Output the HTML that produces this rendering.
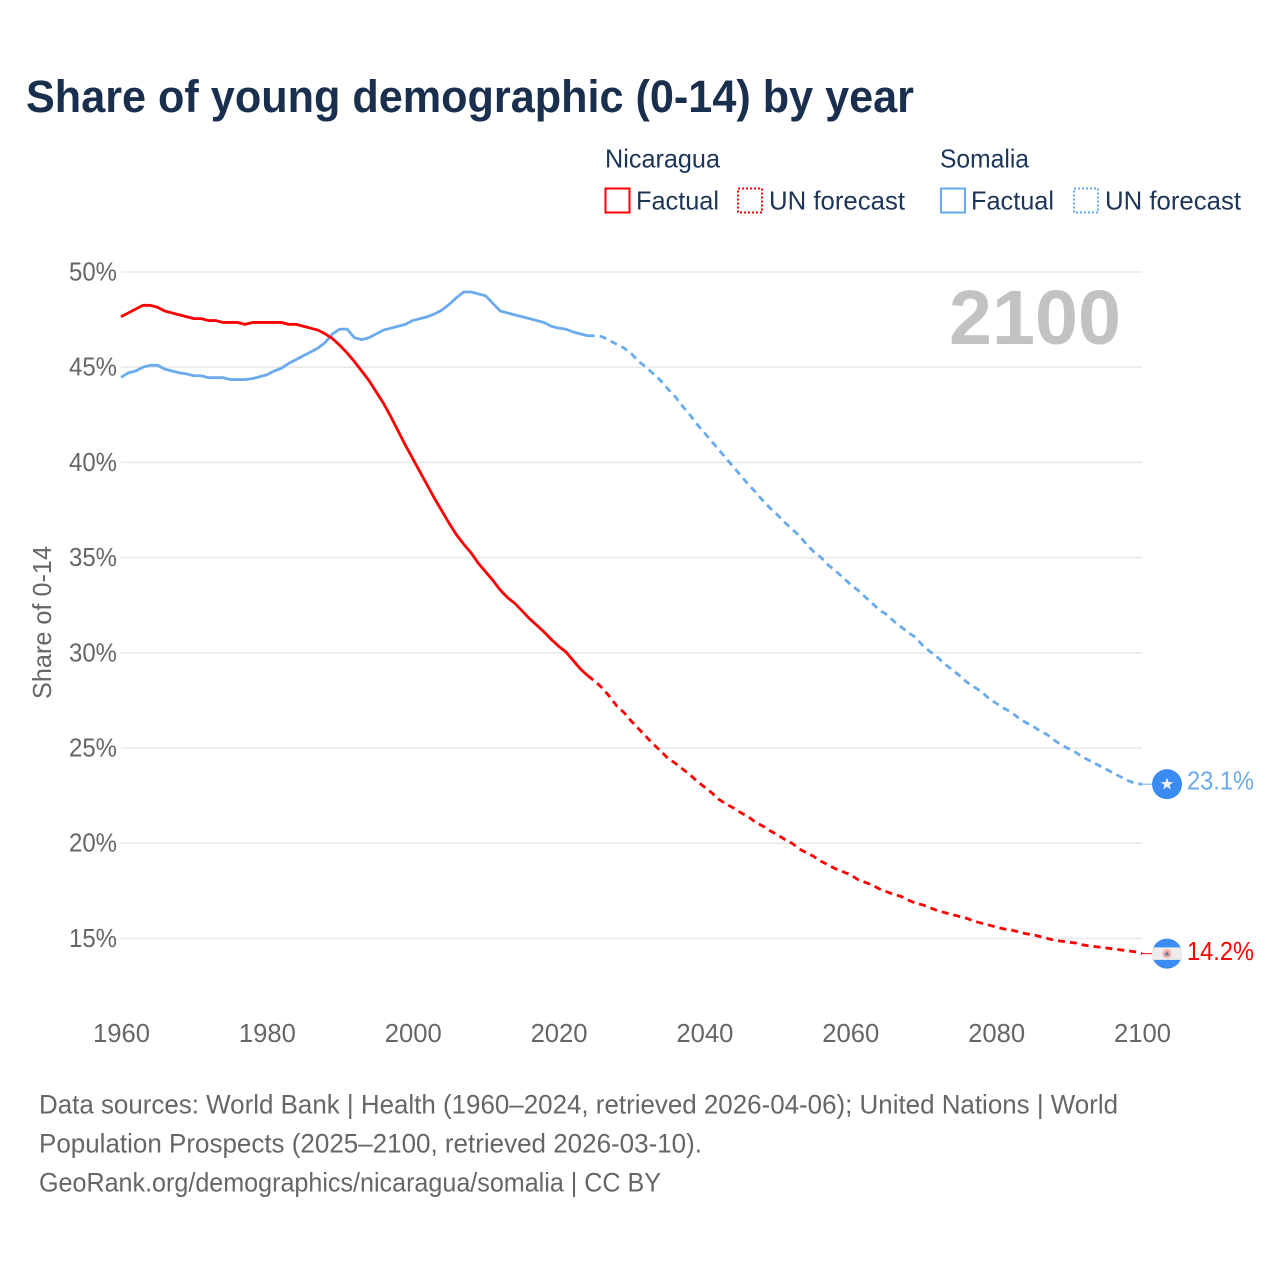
<!DOCTYPE html>
<html lang="en">
<head>
<meta charset="utf-8">
<title>Share of young demographic (0-14) by year</title>
<style>
html,body{margin:0;padding:0;background:#fff;}
svg{display:block;font-family:"Liberation Sans",sans-serif;}
</style>
</head>
<body>
<svg id="chart" xmlns="http://www.w3.org/2000/svg" width="1280" height="1280" viewBox="0 0 1280 1280">
  <rect x="0" y="0" width="1280" height="1280" fill="#ffffff"/>
  <text x="26" y="112" font-size="45" font-weight="700" fill="#1a2f4e" textLength="888" lengthAdjust="spacingAndGlyphs">Share of young demographic (0-14) by year</text>

  <g font-size="26" fill="#1d3557">
    <text x="605" y="167.5" textLength="115" lengthAdjust="spacingAndGlyphs">Nicaragua</text>
    <rect x="605.5" y="188.5" width="24" height="24" fill="none" stroke="#ff0000" stroke-width="2"/>
    <text x="636" y="209.5" textLength="83" lengthAdjust="spacingAndGlyphs">Factual</text>
    <rect x="738" y="188.5" width="24" height="24" fill="none" stroke="#ff0000" stroke-width="2" stroke-dasharray="2 2"/>
    <text x="769" y="209.5" textLength="136" lengthAdjust="spacingAndGlyphs">UN forecast</text>

    <text x="940" y="167.5" textLength="89" lengthAdjust="spacingAndGlyphs">Somalia</text>
    <rect x="941" y="188.5" width="24" height="24" fill="none" stroke="#6aaaee" stroke-width="2"/>
    <text x="971" y="209.5" textLength="83" lengthAdjust="spacingAndGlyphs">Factual</text>
    <rect x="1074" y="188.5" width="24" height="24" fill="none" stroke="#6aaaee" stroke-width="2" stroke-dasharray="2 2"/>
    <text x="1105" y="209.5" textLength="136" lengthAdjust="spacingAndGlyphs">UN forecast</text>
  </g>

  <g id="grid"></g>
  <g id="y-axis"></g>
  <g id="x-axis"></g>

  <text transform="translate(51,699) rotate(-90)" font-size="26" fill="#666666" textLength="153" lengthAdjust="spacingAndGlyphs">Share of 0-14</text>
  <text x="949" y="344" font-size="77" font-weight="700" fill="#c2c2c4" textLength="172" lengthAdjust="spacingAndGlyphs">2100</text>

  <g id="series"></g>
  <g id="markers"></g>

  <g font-size="27" fill="#666666">
    <text x="39" y="1113.5" textLength="1079" lengthAdjust="spacingAndGlyphs">Data sources: World Bank | Health (1960–2024, retrieved 2026-04-06); United Nations | World</text>
    <text x="39" y="1152.5" textLength="663" lengthAdjust="spacingAndGlyphs">Population Prospects (2025–2100, retrieved 2026-03-10).</text>
    <text x="39" y="1191.5" textLength="622" lengthAdjust="spacingAndGlyphs">GeoRank.org/demographics/nicaragua/somalia | CC BY</text>
  </g>
</svg>

<script>
const yTicks = [15, 20, 25, 30, 35, 40, 45, 50];
const xTicks = [1960, 1980, 2000, 2020, 2040, 2060, 2080, 2100];

const factualYears = [
  1960,1961,1962,1963,1964,1965,1966,1967,1968,1969,
  1970,1971,1972,1973,1974,1975,1976,1977,1978,1979,
  1980,1981,1982,1983,1984,1985,1986,1987,1988,1989,
  1990,1991,1992,1993,1994,1995,1996,1997,1998,1999,
  2000,2001,2002,2003,2004,2005,2006,2007,2008,2009,
  2010,2011,2012,2013,2014,2015,2016,2017,2018,2019,
  2020,2021,2022,2023,2024
];
const forecastYears = [
  2024,2025,2026,2027,2028,2029,
  2030,2031,2032,2033,2034,2035,2036,2037,2038,2039,
  2040,2041,2042,2043,2044,2045,2046,2047,2048,2049,
  2050,2051,2052,2053,2054,2055,2056,2057,2058,2059,
  2060,2061,2062,2063,2064,2065,2066,2067,2068,2069,
  2070,2071,2072,2073,2074,2075,2076,2077,2078,2079,
  2080,2081,2082,2083,2084,2085,2086,2087,2088,2089,
  2090,2091,2092,2093,2094,2095,2096,2097,2098,2099,
  2100
];
const nicaraguaFactual = [
  47.65,47.85,48.05,48.25,48.25,48.15,47.95,47.85,47.75,47.65,
  47.55,47.55,47.45,47.45,47.35,47.35,47.35,47.25,47.35,47.35,
  47.35,47.35,47.35,47.25,47.25,47.15,47.05,46.95,46.75,46.5,
  46.15,45.75,45.3,44.8,44.3,43.7,43.1,42.4,41.65,40.9,
  40.2,39.5,38.8,38.1,37.45,36.8,36.2,35.7,35.25,34.7,
  34.25,33.8,33.3,32.9,32.6,32.2,31.8,31.45,31.1,30.7,
  30.35,30.05,29.6,29.15,28.8
];
const nicaraguaForecast = [
  28.8,28.5,28.15,27.7,27.2,26.85,
  26.4,26.0,25.6,25.2,24.85,24.45,24.2,23.9,23.6,23.25,
  22.95,22.65,22.3,22.05,21.85,21.6,21.4,21.1,20.9,20.65,
  20.45,20.2,20.0,19.7,19.5,19.3,19.05,18.85,18.65,18.5,
  18.35,18.1,17.95,17.8,17.6,17.45,17.3,17.2,17.0,16.85,
  16.75,16.6,16.45,16.35,16.25,16.15,16.05,15.9,15.8,15.7,
  15.6,15.5,15.45,15.35,15.25,15.2,15.1,15.0,14.9,14.85,
  14.8,14.75,14.65,14.6,14.55,14.5,14.45,14.4,14.35,14.3,
  14.2
];
const somaliaFactual = [
  44.47,44.7,44.8,45.0,45.1,45.1,44.9,44.8,44.7,44.65,
  44.55,44.55,44.45,44.45,44.45,44.35,44.35,44.35,44.4,44.5,
  44.6,44.8,44.95,45.2,45.4,45.6,45.8,46.0,46.3,46.75,
  47.0,47.0,46.55,46.45,46.55,46.75,46.95,47.05,47.15,47.25,
  47.45,47.55,47.65,47.8,48.0,48.3,48.65,48.95,48.95,48.85,
  48.75,48.35,47.95,47.85,47.75,47.65,47.55,47.45,47.35,47.15,
  47.05,47.0,46.85,46.75,46.65
];
const somaliaForecast = [
  46.65,46.65,46.6,46.4,46.2,46.0,
  45.7,45.3,45.0,44.65,44.3,43.85,43.45,42.95,42.5,42.0,
  41.55,41.1,40.65,40.2,39.75,39.3,38.85,38.45,38.0,37.6,
  37.25,36.85,36.5,36.15,35.7,35.3,35.0,34.6,34.3,33.95,
  33.6,33.3,32.95,32.6,32.25,32.0,31.65,31.35,31.05,30.8,
  30.35,30.05,29.75,29.4,29.1,28.8,28.45,28.2,27.95,27.6,
  27.35,27.1,26.9,26.6,26.35,26.15,25.9,25.7,25.4,25.15,
  24.95,24.75,24.5,24.3,24.1,23.9,23.7,23.5,23.3,23.15,
  23.1
];

const NS = 'http://www.w3.org/2000/svg';
const RED = '#ff0000';
const BLUE = '#6aaaee';
const xScale = year => 121 + (year - 1960) * (1021 / 140);
const yScale = pct => 272 + (50 - pct) * 19.04;

function make(tag, attrs, parent, text) {
  const el = document.createElementNS(NS, tag);
  for (const k in attrs) el.setAttribute(k, attrs[k]);
  if (text !== undefined) el.textContent = text;
  parent.appendChild(el);
  return el;
}
function pathFrom(years, values) {
  return years.map((yr, i) => (i ? 'L' : 'M') + xScale(yr).toFixed(2) + ' ' + yScale(values[i]).toFixed(2)).join(' ');
}

const gridG = document.getElementById('grid');
const yAxisG = document.getElementById('y-axis');
const xAxisG = document.getElementById('x-axis');
const seriesG = document.getElementById('series');
const markersG = document.getElementById('markers');

yTicks.forEach(t => {
  const line = make('line', {x1: xScale(1960), x2: xScale(2100), y1: yScale(t), y2: yScale(t), stroke: '#e9e9e9', 'stroke-width': 1.6}, gridG);
  
  
  const label = make('text', {x: 69, y: yScale(t) + 8.5, 'font-size': 26, fill: '#666666', textLength: 48, lengthAdjust: 'spacingAndGlyphs'}, yAxisG, t + '%');
  
  
});

xTicks.forEach(t => {
  const label = make('text', {x: xScale(t) + 0.5, y: 1042, 'font-size': 26, fill: '#666666', 'text-anchor': 'middle', textLength: 57, lengthAdjust: 'spacingAndGlyphs'}, xAxisG, String(t));
  
  
});

function drawSeries(name, color, factual, forecast) {
  const solid = make('path', {d: pathFrom(factualYears, factual), fill: 'none', stroke: color, 'stroke-width': 2.8, 'stroke-linejoin': 'round'}, seriesG);
  
  
  const dashed = make('path', {d: pathFrom(forecastYears, forecast), fill: 'none', stroke: color, 'stroke-width': 2.8, 'stroke-dasharray': '7 5', 'stroke-linejoin': 'round'}, seriesG);
  
  
}
drawSeries('somalia', BLUE, somaliaFactual, somaliaForecast);
drawSeries('nicaragua', RED, nicaraguaFactual, nicaraguaForecast);

function drawMarker(name, color, forecast, labelDy, drawFlag) {
  const v = forecast[forecast.length - 1];
  const endYear = forecastYears[forecastYears.length - 1];
  const cx = 1167, cy = yScale(v);
  const conn = make('line', {x1: xScale(endYear), x2: cx - 15, y1: cy, y2: cy, stroke: color, 'stroke-width': 1}, markersG);
  
  
  const g = make('g', {transform: 'translate(' + cx + ' ' + cy + ')'}, markersG);
  
  
  drawFlag(g);
  const label = make('text', {x: 1187, y: cy + labelDy, 'font-size': 26, fill: color, textLength: 67, lengthAdjust: 'spacingAndGlyphs'}, markersG, v.toFixed(1) + '%');
  
  
}

drawMarker('somalia', BLUE, somaliaForecast, 5.5, g => {
  make('circle', {cx: 0, cy: 0, r: 15, fill: '#3a8cf2'}, g);
  make('polygon', {points: '0,-6.5 1.6,-2 6.3,-2 2.5,0.8 3.9,5.3 0,2.6 -3.9,5.3 -2.5,0.8 -6.3,-2 -1.6,-2', fill: '#f2f2f2'}, g);
});

drawMarker('nicaragua', RED, nicaraguaForecast, 6.5, g => {
  make('circle', {cx: 0, cy: 0, r: 15, fill: '#3a8cf2'}, g);
  make('path', {d: 'M-15 -6.3 H15 V6.3 H-15 Z', fill: '#ececec'}, g);
  make('circle', {cx: 0, cy: 0, r: 4.5, fill: '#f5b0a8'}, g);
  make('polygon', {points: '0,-2.6 2.6,1.8 -2.6,1.8', fill: '#4d7fb0'}, g);
});
</script>
</body>
</html>
